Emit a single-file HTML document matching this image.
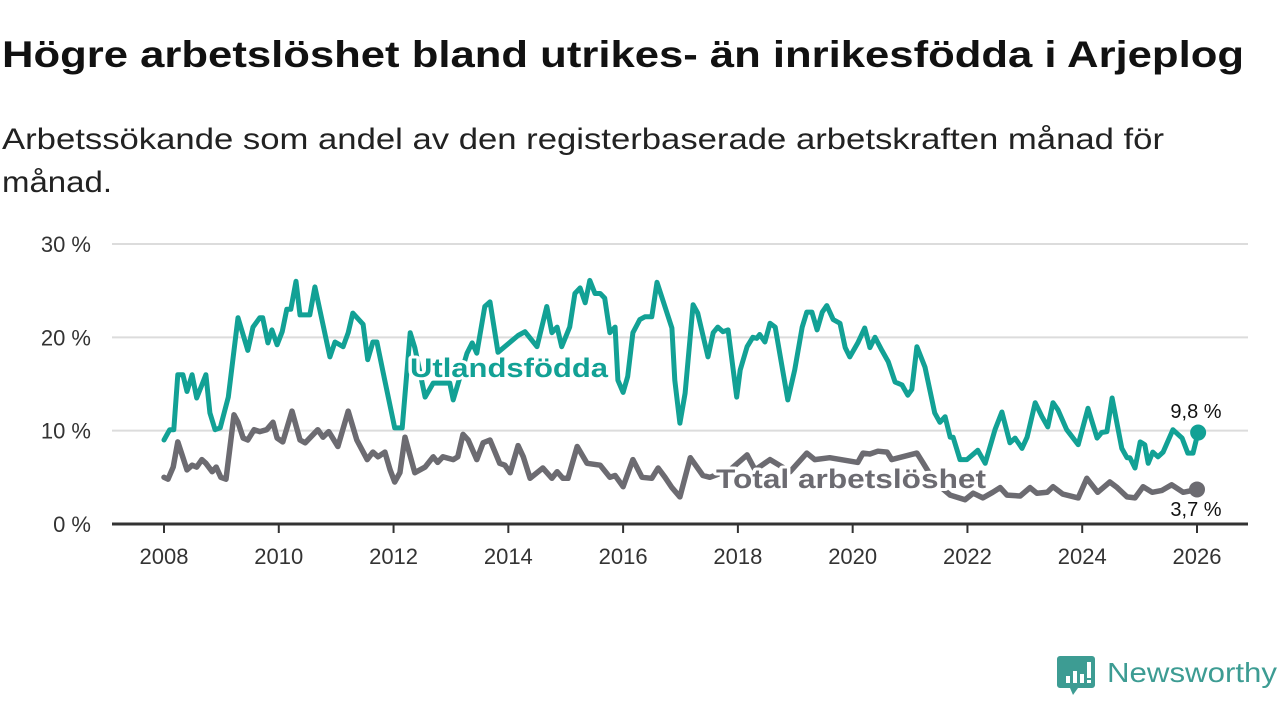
<!DOCTYPE html>
<html><head><meta charset="utf-8"><style>
html,body{margin:0;padding:0;background:#fff;}
svg{display:block;font-family:"Liberation Sans",sans-serif;}
</style></head><body>
<svg id="chart" width="1280" height="720" viewBox="0 0 1280 720">
<text x="2" y="67" font-size="37" font-weight="bold" fill="#111" textLength="1242" lengthAdjust="spacingAndGlyphs">Högre arbetslöshet bland utrikes- än inrikesfödda i Arjeplog</text>
<text x="2" y="149" font-size="30" fill="#222" textLength="1162" lengthAdjust="spacingAndGlyphs">Arbetssökande som andel av den registerbaserade arbetskraften månad för</text>
<text x="2" y="192" font-size="30" fill="#222" textLength="110" lengthAdjust="spacingAndGlyphs">månad.</text>
<g id="grid"></g><g id="xaxis"></g><g id="series"></g><g id="labels"></g>
<g>
<path d="M1060 656 h32 a3 3 0 0 1 3 3 v26 a3 3 0 0 1 -3 3 h-14 l-5 7 l-3 -7 h-10 a3 3 0 0 1 -3 -3 v-26 a3 3 0 0 1 3 -3z" fill="#3d9c93"/>
<rect x="1066" y="676" width="4" height="7" fill="#fff"/><rect x="1073" y="671" width="4" height="12" fill="#fff"/><rect x="1080" y="674" width="4" height="9" fill="#fff"/><rect x="1087" y="662" width="4" height="16" fill="#fff"/><rect x="1087" y="680" width="4" height="3" fill="#fff"/>
<text x="1107" y="682" font-size="28" fill="#3d9c93" textLength="170" lengthAdjust="spacingAndGlyphs">Newsworthy</text>
</g>
</svg>
<script>
const yTicks = [0, 10, 20, 30];
const yTickLabels = ["0 %", "10 %", "20 %", "30 %"];
const xTicks = [2008, 2010, 2012, 2014, 2016, 2018, 2020, 2022, 2024, 2026];
const utlYears = [2008.0,2008.10,2008.17,2008.24,2008.33,2008.40,2008.49,2008.57,2008.73,2008.80,2008.89,2008.98,2009.12,2009.29,2009.46,2009.55,2009.67,2009.72,2009.81,2009.88,2009.97,2010.06,2010.14,2010.21,2010.30,2010.37,2010.54,2010.63,2010.89,2010.98,2011.12,2011.21,2011.29,2011.47,2011.55,2011.64,2011.71,2011.82,2012.02,2012.15,2012.29,2012.37,2012.55,2012.69,2012.98,2013.04,2013.28,2013.37,2013.45,2013.59,2013.68,2013.82,2014.17,2014.29,2014.50,2014.67,2014.76,2014.85,2014.93,2015.07,2015.16,2015.25,2015.34,2015.42,2015.51,2015.60,2015.68,2015.77,2015.86,2015.91,2016.00,2016.08,2016.17,2016.29,2016.38,2016.50,2016.59,2016.85,2016.90,2016.99,2017.08,2017.22,2017.30,2017.48,2017.57,2017.65,2017.74,2017.83,2017.98,2018.04,2018.16,2018.26,2018.33,2018.38,2018.47,2018.56,2018.65,2018.87,2018.99,2019.12,2019.20,2019.29,2019.38,2019.47,2019.55,2019.66,2019.78,2019.87,2019.95,2020.09,2020.21,2020.30,2020.39,2020.51,2020.62,2020.74,2020.86,2020.96,2021.03,2021.12,2021.26,2021.43,2021.52,2021.61,2021.70,2021.75,2021.87,2021.99,2022.18,2022.31,2022.48,2022.60,2022.74,2022.83,2022.95,2023.04,2023.18,2023.30,2023.40,2023.49,2023.58,2023.73,2023.93,2024.10,2024.26,2024.34,2024.43,2024.52,2024.69,2024.78,2024.83,2024.92,2025.01,2025.09,2025.15,2025.23,2025.32,2025.41,2025.58,2025.74,2025.84,2025.93,2026.02];
const utlValues = [9.0,10.1,10.1,16,16,14.2,16,13.5,16,11.9,10.1,10.3,13.6,22.1,18.6,21.1,22.1,22.1,19.4,20.8,19.2,20.6,23,23,26,22.4,22.4,25.4,17.9,19.5,19,20.5,22.6,21.4,17.6,19.5,19.5,16.2,10.3,10.3,20.5,18.9,13.6,15.1,15.1,13.3,18.3,19.4,18.3,23.3,23.8,18.4,20.2,20.6,19,23.3,20.5,21.1,19,21.1,24.7,25.3,23.7,26.1,24.7,24.7,24.2,20.5,21.1,15.4,14.1,15.8,20.5,21.9,22.2,22.2,25.9,21,15.4,10.8,14,23.5,22.6,17.9,20.5,21.1,20.6,20.8,13.6,16.5,19,20,19.9,20.3,19.5,21.5,21.1,13.3,16.5,21.1,22.7,22.7,20.8,22.7,23.4,21.9,21.5,18.9,17.9,19.4,21,18.9,20,18.6,17.4,15.2,14.9,13.8,14.4,19,16.8,11.9,10.9,11.5,9.3,9.3,6.9,6.9,7.9,6.5,10.1,12,8.7,9.2,8.1,9.3,13,11.5,10.4,13,12.2,10.1,8.5,12.4,9.2,9.8,9.9,13.5,8.1,7.1,7.1,6,8.8,8.5,6.5,7.7,7.2,7.7,10.1,9.2,7.6,7.6,9.8];
const totYears = [2008.0,2008.07,2008.16,2008.24,2008.40,2008.49,2008.57,2008.66,2008.73,2008.84,2008.91,2008.99,2009.08,2009.22,2009.29,2009.38,2009.46,2009.57,2009.67,2009.79,2009.90,2009.97,2010.07,2010.23,2010.37,2010.46,2010.68,2010.77,2010.87,2011.03,2011.21,2011.36,2011.54,2011.64,2011.73,2011.85,2011.94,2012.02,2012.11,2012.20,2012.37,2012.55,2012.69,2012.77,2012.86,2013.04,2013.12,2013.21,2013.30,2013.45,2013.56,2013.68,2013.85,2013.94,2014.03,2014.17,2014.26,2014.38,2014.60,2014.76,2014.85,2014.95,2015.04,2015.20,2015.37,2015.60,2015.77,2015.86,2016.00,2016.17,2016.33,2016.50,2016.61,2016.73,2016.85,2016.99,2017.17,2017.39,2017.51,2017.86,2018.16,2018.30,2018.56,2018.91,2019.20,2019.34,2019.60,2020.09,2020.18,2020.30,2020.44,2020.60,2020.68,2021.12,2021.23,2021.43,2021.70,2021.96,2022.10,2022.27,2022.44,2022.57,2022.69,2022.92,2023.09,2023.21,2023.39,2023.49,2023.66,2023.93,2024.08,2024.27,2024.48,2024.61,2024.78,2024.92,2025.06,2025.22,2025.39,2025.56,2025.76,2026.00];
const totValues = [5.0,4.8,6.1,8.8,5.8,6.3,6.1,6.9,6.5,5.6,6.1,5.0,4.8,11.7,10.9,9.2,9.0,10.1,9.9,10.1,10.9,9.2,8.8,12.1,9.0,8.7,10.1,9.3,9.9,8.3,12.1,9.0,6.9,7.7,7.2,7.7,5.8,4.5,5.5,9.3,5.5,6.1,7.2,6.6,7.2,6.9,7.2,9.6,9.0,6.9,8.7,9.0,6.5,6.3,5.5,8.4,7.2,4.9,6.0,4.9,5.6,4.9,4.9,8.3,6.5,6.3,5.0,5.2,4.0,6.9,5.0,4.9,6.0,5.0,3.9,2.9,7.1,5.2,5.0,5.8,7.4,5.8,6.9,5.6,7.6,6.9,7.1,6.6,7.6,7.5,7.8,7.7,6.9,7.6,6.5,4.5,3.1,2.6,3.3,2.8,3.4,3.9,3.1,3.0,3.9,3.3,3.4,4.0,3.2,2.8,4.9,3.4,4.5,3.9,2.9,2.8,4.0,3.4,3.6,4.2,3.4,3.7];

const NS = "http://www.w3.org/2000/svg";
const x = yr => 164 + (yr - 2008) * (1197 - 164) / 18;
const y = v => 524 - v * (524 - 244) / 30;
function mk(tag, attrs, parent){const e=document.createElementNS(NS,tag);for(const k in attrs)e.setAttribute(k,attrs[k]);parent.appendChild(e);return e;}
const grid=document.getElementById('grid'), xa=document.getElementById('xaxis'), ser=document.getElementById('series'), lab=document.getElementById('labels');
yTicks.forEach((t,i)=>{
  if(t>0){const l=mk('line',{x1:112,x2:1248,y1:y(t),y2:y(t),stroke:'#dcdcdc','stroke-width':2},grid);
  
  }
  const tx=mk('text',{x:91,y:y(t)+8,'text-anchor':'end','font-size':22,fill:'#333'},grid);
  tx.textContent=yTickLabels[i];
  
  
});
const ax=mk('line',{x1:112,x2:1248,y1:524,y2:524,stroke:'#333','stroke-width':3},xa);


xTicks.forEach(t=>{
  const tk=mk('line',{x1:x(t),x2:x(t),y1:524,y2:533,stroke:'#333','stroke-width':2},xa);
  
  
  const tx=mk('text',{x:x(t),y:564,'text-anchor':'middle','font-size':22,fill:'#333'},xa);
  tx.textContent=t;
  
  
});
function line(years,vals,color,name,w){
  const d=years.map((yr,i)=>(i?'L':'M')+x(yr).toFixed(1)+' '+y(vals[i]).toFixed(1)).join(' ');
  const p=mk('path',{d:d,fill:'none',stroke:color,'stroke-width':w,'stroke-linejoin':'round','stroke-linecap':'round'},ser);
  
  
  const n=years.length-1;
  const c=mk('circle',{cx:x(years[n]),cy:y(vals[n]),r:8,fill:color},ser);
  
  
}
line(totYears,totValues,'#6c6b71','total',5.5);
line(utlYears,utlValues,'#12a195','utlandsfodda',5);
function label(txt,xx,yy,color,size,weight,name,anchor){
  const t=mk('text',{x:xx,y:yy,fill:color,'font-size':size,'font-weight':weight,stroke:'#fff','stroke-width':weight==='bold'?6:4,'paint-order':'stroke','stroke-linejoin':'round','text-anchor':anchor||'start'},lab);
  t.textContent=txt;
  
  
  return t;
}
const l1=label('Utlandsfödda',410,377,'#12a195',27,'bold','utlandsfodda-series-label');
l1.setAttribute('textLength','198');
l1.setAttribute('lengthAdjust','spacingAndGlyphs');
const l2=label('Total arbetslöshet',716,488,'#6c6b71',27,'bold','total-series-label');
l2.setAttribute('textLength','270');
l2.setAttribute('lengthAdjust','spacingAndGlyphs');
label('9,8 %',1196,418,'#111',20,'normal','utlandsfodda-last-value','middle');
label('3,7 %',1196,516,'#111',20,'normal','total-last-value','middle');
</script>
</body></html>
